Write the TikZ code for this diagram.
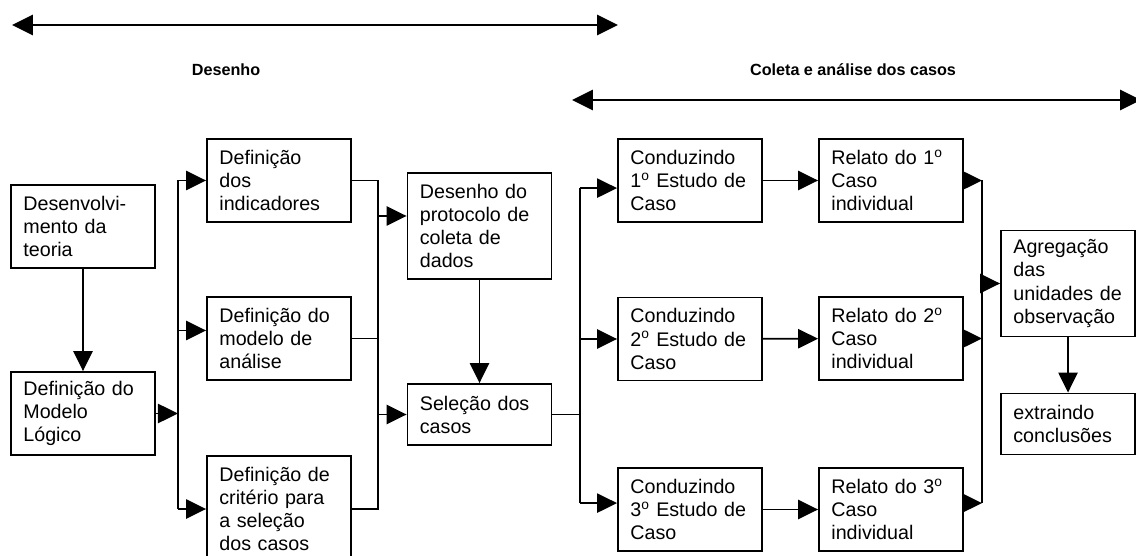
\documentclass[tikz,border=0pt]{standalone}
\usepackage{fontspec}
\setmainfont{Liberation Sans}
\usetikzlibrary{arrows.meta}

\tikzset{
	caixa/.style={draw, rectangle, line width=1.3pt, text width=2.98cm, inner xsep=0.31cm, inner ysep=0pt, align=left, font=\fontsize{14}{16.4}\selectfont},
	lin2/.style={caixa, minimum height=1.525cm},
	lin3/.style={caixa, minimum height=2.075cm},
	lin4/.style={caixa, minimum height=2.65cm},
	seta/.style={-{Triangle[length=0.5cm,width=0.48cm]}, line width=1.3pt},
	linha/.style={line width=1.3pt},
	fase/.style={{Triangle[length=0.52cm,width=0.5cm]}-{Triangle[length=0.52cm,width=0.5cm]}, line width=1.8pt},
	titulo/.style={font=\fontsize{11.5}{13}\selectfont\bfseries}
}

\begin{document}
\begin{tikzpicture}[x=0.025cm, y=-0.025cm]
		%%%%% START %%%%%
		\useasboundingbox (0,0) rectangle (1136,556);
		
		% fases
		\coordinate (fd1) at (12,25);
		\coordinate (fd2) at (618,25);
		\draw[fase] (fd1) -- (fd2);
		\node[titulo] (desenho) at (226,70) {Desenho};
		\node[titulo] (coleta) at (853,70) {Coleta e análise dos casos};
		\coordinate (fc1) at (572,100);
		\coordinate (fc2) at (1141,100);
		\draw[fase] (fc1) -- (fc2);
		
		% desenho
		\node[lin3] (teoria) at (83,226.5) {Desenvolvi-\\mento da\\teoria};
		\node[lin3] (modelo) at (83,413.5) {Definição do\\Modelo\\Lógico};
		\node[lin3] (indic) at (279,180.5) {Definição\\dos\\indicadores};
		\node[lin3] (analise) at (279,338.5) {Definição do\\modelo de\\análise};
		\node[lin4] (criterio) at (279,509) {Definição de\\critério para\\a seleção\\dos casos};
		\node[lin4] (protocolo) at (479.5,226) {Desenho do\\protocolo de\\coleta de\\dados};
		\node[lin2] (selecao) at (479.5,414.5) {Seleção dos\\casos};
		
		% coleta
		\node[lin3] (cond1) at (690,180.5) {Conduzindo\\1\textsuperscript{o} Estudo de\\Caso};
		\node[lin3] (cond2) at (690,339) {Conduzindo\\2\textsuperscript{o} Estudo de\\Caso};
		\node[lin3] (cond3) at (690,509.5) {Conduzindo\\3\textsuperscript{o} Estudo de\\Caso};
		\node[lin3] (rel1) at (891,180.5) {Relato do 1\textsuperscript{o}\\Caso\\individual};
		\node[lin3] (rel2) at (891,338.5) {Relato do 2\textsuperscript{o}\\Caso\\individual};
		\node[lin3] (rel3) at (891,509.5) {Relato do 3\textsuperscript{o}\\Caso\\individual};
		\node[lin4, text width=2.73cm] (agreg) at (1068,283.5) {Agregação\\das\\unidades de\\observação};
		\node[lin2, text width=2.73cm] (concl) at (1068,424) {extraindo\\conclusões};
		
		% barras
		\coordinate (e1) at (178,0);
		\coordinate (e2) at (378,0);
		\coordinate (e3) at (580,0);
		\coordinate (e4) at (982,0);
		\coordinate (a2) at ([yshift=0.2cm]analise.west);
		\coordinate (p1) at ([yshift=0.25cm]protocolo.west);
		\coordinate (k1) at ([yshift=-0.19cm]cond1.west);
		\coordinate (k3) at ([yshift=0.16cm]cond3.west);
		\coordinate (r3) at ([yshift=0.16cm]rel3.east);
		
		\draw[seta] (teoria) -- (modelo);
		\draw[seta] (modelo.east) -- (modelo.east -| e1);
		\draw[linha] (indic.west -| e1) -- (criterio.west -| e1);
		\draw[seta] (indic.west -| e1) -- (indic.west);
		\draw[seta] (a2 -| e1) -- (a2);
		\draw[seta] (criterio.west -| e1) -- (criterio.west);
		
		\draw[linha] (indic.east) -- (indic.east -| e2) -- (criterio.east -| e2) -- (criterio.east);
		\draw[linha] (analise.east) -- (analise.east -| e2);
		\draw[seta] (p1 -| e2) -- (p1);
		\draw[seta] (selecao.west -| e2) -- (selecao.west);
		\draw[seta] (protocolo) -- (selecao);
		
		\draw[linha] (selecao.east) -- (selecao.east -| e3);
		\draw[linha] (k1 -| e3) -- (k3 -| e3);
		\draw[seta] (k1 -| e3) -- (k1);
		\draw[seta] (cond2.west -| e3) -- (cond2.west);
		\draw[seta] (k3 -| e3) -- (k3);
		
		\draw[seta] (cond1) -- (rel1);
		\draw[seta] (cond2) -- (rel2);
		\draw[seta] (cond3) -- (rel3);
		
		\draw[linha] (rel1.east -| e4) -- (r3 -| e4);
		\draw[seta] (rel1.east) -- (rel1.east -| e4);
		\draw[seta] (rel2.east) -- (rel2.east -| e4);
		\draw[seta] (r3) -- (r3 -| e4);
		\draw[seta] (agreg.west -| e4) -- (agreg.west);
		\draw[seta] (agreg) -- (concl);
		
		%%%%% END %%%%%
\end{tikzpicture}
\end{document}
